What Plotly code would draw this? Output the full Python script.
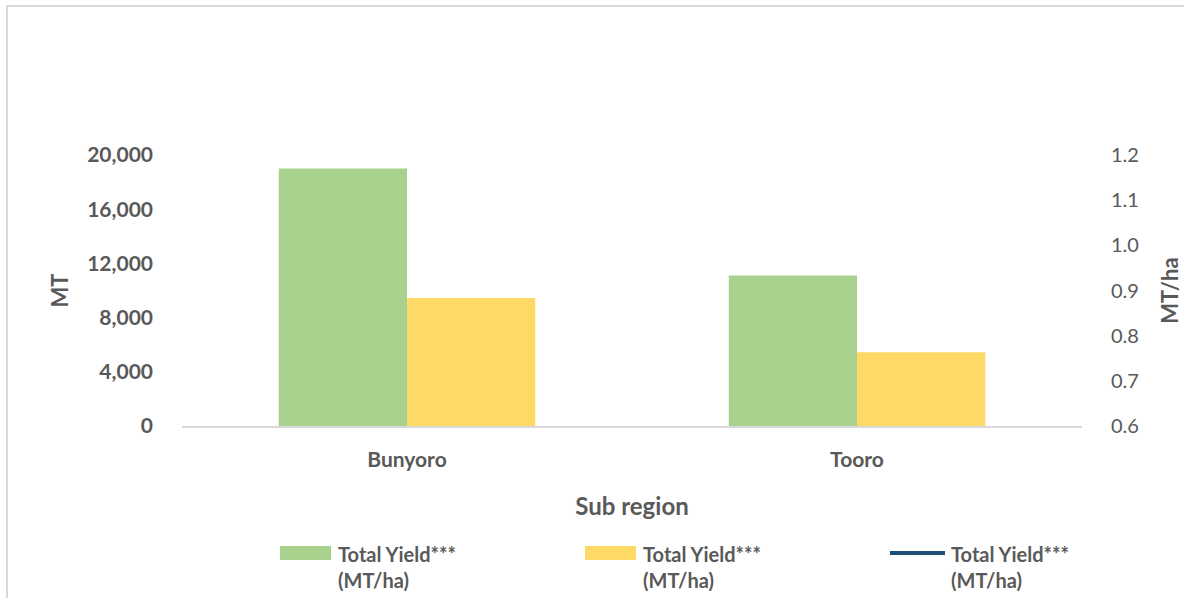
import plotly.graph_objects as go

categories = ["Bunyoro", "Tooro"]
green_values = [19000, 11100]          # MT
yellow_values = [9450, 5450]           # MT
line_values = [None, None]             # MT/ha line (not visible in the chart)
series_names = ["Total Yield***<br>(MT/ha)", "Total Yield***<br>(MT/ha)", "Total Yield***<br>(MT/ha)"]
series_colors = ["#A9D18E", "#FFD966", "#1F4E79"]
left_ticks = [0, 4000, 8000, 12000, 16000, 20000]
right_ticks = [0.6, 0.7, 0.8, 0.9, 1.0, 1.1, 1.2]

FONT = "Lato"
GRAY = "#595959"
W, H = 1184, 598
L, R, T, B = 182, 102, 155, 172
PW, PH = W - L - R, H - T - B


def px(x):
    return (x - L) / PW


def py(y):
    return (H - B - y) / PH


fig = go.Figure()
fig.add_trace(go.Bar(x=categories, y=green_values, name=series_names[0],
                     marker=dict(color=series_colors[0], line=dict(width=0))))
fig.add_trace(go.Bar(x=categories, y=yellow_values, name=series_names[1],
                     marker=dict(color=series_colors[1], line=dict(width=0))))
fig.add_trace(go.Scatter(x=categories, y=line_values, name=series_names[2], yaxis="y2",
                         mode="lines", line=dict(color=series_colors[2], width=4)))

fig.update_layout(
    width=W, height=H,
    margin=dict(l=L, r=R, t=T, b=B, autoexpand=False),
    paper_bgcolor="white", plot_bgcolor="white",
    barmode="group", bargap=0.43, bargroupgap=0,
    font=dict(family=FONT, color=GRAY),
    showlegend=False,
    xaxis=dict(
        showline=True, linecolor="#D9D9D9", linewidth=1.5,
        showgrid=False, ticks="", ticklabelstandoff=14,
        tickfont=dict(family=FONT, size=21, color=GRAY, weight="bold"),
        title=dict(text="Sub region", font=dict(family=FONT, size=24, color=GRAY, weight="bold"), standoff=28),
    ),
    yaxis=dict(
        range=[0, 20000], tickvals=left_ticks, tickformat=",",
        showgrid=False, zeroline=False, showline=False, ticks="", ticklabelstandoff=28,
        tickfont=dict(family=FONT, size=21, color=GRAY, weight="bold"),
        title=dict(text="MT", font=dict(family=FONT, size=22, color=GRAY, weight="bold"), standoff=12),
    ),
    yaxis2=dict(
        overlaying="y", side="right", range=[0.6, 1.2], tickvals=right_ticks, tickformat=".1f",
        showgrid=False, zeroline=False, showline=False, ticks="", ticklabelstandoff=28,
        tickfont=dict(family=FONT, size=20, color=GRAY),
        title=dict(text="MT/ha", font=dict(family=FONT, size=22, color=GRAY, weight="bold"), standoff=24),
    ),
)

# manual legend (wide swatches as in the original)
legend_x = [280, 585, 888]
for i, (name, color) in enumerate(zip(series_names, series_colors)):
    x0 = legend_x[i]
    if i < 2:
        fig.add_shape(type="rect", xref="paper", yref="paper",
                      x0=px(x0), x1=px(x0 + 51), y0=py(546), y1=py(560),
                      fillcolor=color, line=dict(width=0))
        tx = x0 + 56
    else:
        fig.add_shape(type="line", xref="paper", yref="paper",
                      x0=px(x0 + 2), x1=px(x0 + 57), y0=py(553), y1=py(553),
                      line=dict(color=color, width=4))
        tx = x0 + 61
    fig.add_annotation(xref="paper", yref="paper", x=px(tx), y=py(540),
                       xanchor="left", yanchor="top", align="left", showarrow=False,
                       text=name, font=dict(family=FONT, size=20, color=GRAY, weight="bold"))

# chart-area border (left and top edges)
fig.add_shape(type="line", xref="paper", yref="paper", x0=px(7), x1=px(7),
              y0=py(6), y1=py(600), line=dict(color="#D9D9D9", width=2))
fig.add_shape(type="line", xref="paper", yref="paper", x0=px(6), x1=px(1190),
              y0=py(6), y1=py(6), line=dict(color="#D9D9D9", width=2))

fig.write_html("out.html", config={"displayModeBar": False},
               post_script="document.body.style.margin='0';document.body.style.overflow='hidden';")
